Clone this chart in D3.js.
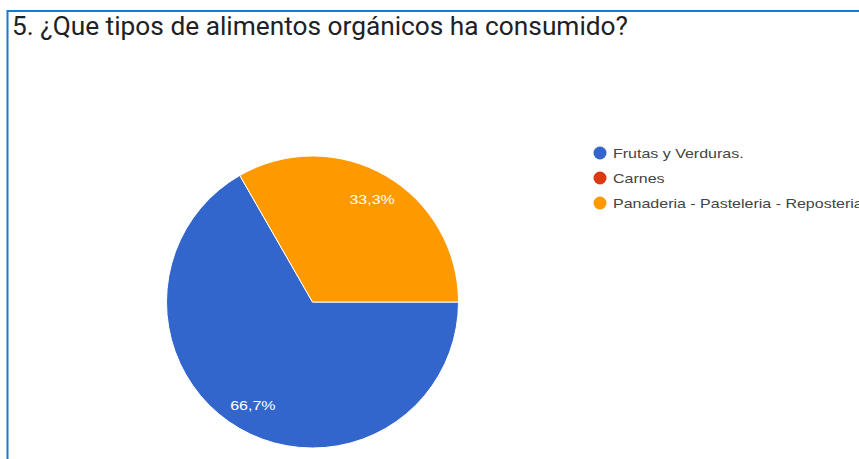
<!DOCTYPE html>
<html>
<head>
<meta charset="utf-8">
<script src="https://cdn.jsdelivr.net/npm/d3@7"></script>
<style>
  html, body { margin: 0; padding: 0; background: #fff; }
  svg { display: block; }
</style>
</head>
<body>
<svg id="chart" width="859" height="459"></svg>
<script>
// Survey question and answer data
const title = "5. ¿Que tipos de alimentos orgánicos ha consumido?";
const categories = ["Frutas y Verduras.", "Carnes", "Panaderia - Pasteleria - Reposteria"];
const percentages = [66.7, 0, 33.3];
const colors = ["#3366cc", "#dc3912", "#ff9900"];

const width = 859, height = 459;
const svg = d3.select("#chart");

// Wide set for the small chart texts
const stretch = 1.23;
function widen(sel) {
  sel.each(function () {
    const w = this.getComputedTextLength();
    d3.select(this).attr("textLength", w * stretch).attr("lengthAdjust", "spacingAndGlyphs");
  });
}

// Frame around the card (top and left edges)
svg.append("line").attr("x1", 7.5).attr("y1", 11).attr("x2", width).attr("y2", 11)
  .attr("stroke", "#1a7acc").attr("stroke-width", 2);
svg.append("line").attr("x1", 7.5).attr("y1", 10).attr("x2", 7.5).attr("y2", height)
  .attr("stroke", "#1a7acc").attr("stroke-width", 2);

// Title
svg.append("text")
  .attr("x", 12).attr("y", 35)
  .attr("font-family", "Roboto, sans-serif")
  .attr("font-size", 25)
  .attr("fill", "#202124")
  .attr("textLength", 616)
  .attr("lengthAdjust", "spacingAndGlyphs")
  .text(title);

// Pie
const cx = 312.5, cy = 302, radius = 146;
const data = categories.map((c, i) => ({ name: c, value: percentages[i], color: colors[i] }));

const pie = d3.pie()
  .value(d => d.value)
  .sort(null)
  .startAngle(Math.PI / 2)
  .endAngle(Math.PI / 2 + 2 * Math.PI);

const arc = d3.arc().innerRadius(0).outerRadius(radius);
const labelArc = d3.arc().innerRadius(radius * 0.815).outerRadius(radius * 0.815);

const g = svg.append("g").attr("transform", `translate(${cx},${cy})`);
const arcs = pie(data).filter(d => d.data.value > 0);

g.selectAll("path.slice")
  .data(arcs)
  .join("path")
  .attr("class", "slice")
  .attr("d", arc)
  .attr("fill", d => d.data.color)
  .attr("stroke", "#ffffff")
  .attr("stroke-width", 1);

g.selectAll("text.pct")
  .data(arcs)
  .join("text")
  .attr("class", "pct")
  .attr("transform", d => `translate(${labelArc.centroid(d)})`)
  .attr("text-anchor", "middle")
  .attr("dy", "0.35em")
  .attr("font-family", "Arial, 'Liberation Sans', sans-serif")
  .attr("font-size", 13)
  .attr("fill", "#ffffff")
  .text(d => d.data.value.toFixed(1).replace(".", ",") + "%")
  .call(widen);

// Legend
const legend = svg.append("g").attr("transform", "translate(600,153)");
const rows = legend.selectAll("g.row")
  .data(data)
  .join("g")
  .attr("class", "row")
  .attr("transform", (d, i) => `translate(0,${i * 25})`);

rows.append("circle")
  .attr("r", 6.5)
  .attr("fill", d => d.color);

rows.append("text")
  .attr("x", 13)
  .attr("dy", "0.35em")
  .attr("font-family", "Arial, 'Liberation Sans', sans-serif")
  .attr("font-size", 13)
  .attr("fill", "#444444")
  .text(d => d.name)
  .call(widen);
</script>
</body>
</html>
